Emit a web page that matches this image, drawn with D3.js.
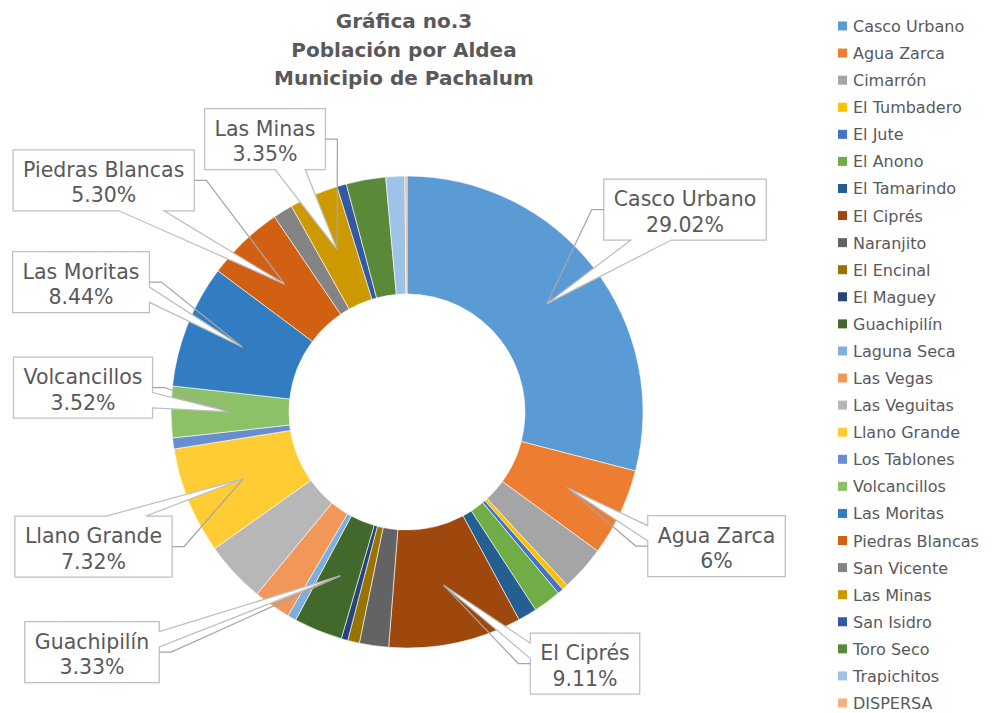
<!DOCTYPE html>
<html>
<head>
<meta charset="utf-8">
<script src="https://cdn.jsdelivr.net/npm/d3@7"></script>
<style>
  body { margin: 0; background: #fff; }
  svg text { font-family: "DejaVu Sans", sans-serif; fill: #595959; }
</style>
</head>
<body>
<div id="chart"></div>
<script>
// aldeas del municipio, en el orden de la hoja
var aldeas = ["Casco Urbano", "Agua Zarca", "Cimarrón", "El Tumbadero", "El Jute", "El Anono",
  "El Tamarindo", "El Ciprés", "Naranjito", "El Encinal", "El Maguey", "Guachipilín",
  "Laguna Seca", "Las Vegas", "Las Veguitas", "Llano Grande", "Los Tablones", "Volcancillos",
  "Las Moritas", "Piedras Blancas", "San Vicente", "Las Minas", "San Isidro", "Toro Seco",
  "Trapichitos", "DISPERSA"];

// porcentaje de poblacion
var porcentajes = [29.02, 6, 3.1, 0.4, 0.4, 1.9,
  1.3, 9.11, 2.0, 0.8, 0.45, 3.33,
  0.6, 2.55, 4.2, 7.32, 0.75, 3.52,
  8.44, 5.30, 1.35, 3.35, 0.65, 2.7,
  1.3, 0.14];

// etiquetas que se muestran en la grafica
var etiquetas = ["Casco Urbano", "Agua Zarca", "El Ciprés", "Guachipilín", "Llano Grande",
  "Volcancillos", "Las Moritas", "Piedras Blancas", "Las Minas"];
var textoEtiquetas = ["29.02%", "6%", "9.11%", "3.33%", "7.32%", "3.52%", "8.44%", "5.30%", "3.35%"];

var colores = ["#5B9BD5", "#ED7D31", "#A5A5A5", "#FFC000", "#4472C4", "#70AD47",
  "#255E91", "#9E480E", "#636363", "#997300", "#264478", "#43682B",
  "#7CAFDD", "#F1975A", "#B7B7B7", "#FFCD33", "#698ED0", "#8CC168",
  "#327DC2", "#D26012", "#848484", "#CC9A00", "#335AA1", "#5A8A39",
  "#9DC3E6", "#F4B183"];

var titulo = ["Gráfica no.3", "Población por Aldea", "Municipio de Pachalum"];

var width = 997, height = 713;
var cx = 407, cy = 412, outerR = 236, innerR = 118;

// centro de cada cuadro de etiqueta (posicion en pantalla)
var cajas = {
  "Casco Urbano": [685, 209.5],
  "Agua Zarca": [716.5, 546],
  "El Ciprés": [585, 663.5],
  "Guachipilín": [92, 652],
  "Llano Grande": [93.5, 546.5],
  "Volcancillos": [83, 387.5],
  "Las Moritas": [81, 282],
  "Piedras Blancas": [103.7, 180.3],
  "Las Minas": [265, 139]
};

var datos = aldeas.map(function(a, i) { return { nombre: a, valor: porcentajes[i] }; });

var svg = d3.select("#chart").append("svg")
  .attr("width", width)
  .attr("height", height);

var color = d3.scaleOrdinal().domain(aldeas).range(colores);

// titulo
svg.append("g").selectAll("text")
  .data(titulo)
  .enter().append("text")
    .attr("x", 404)
    .attr("y", function(d, i) { return 28 + i * 28.5; })
    .attr("text-anchor", "middle")
    .style("font-size", "20px")
    .style("font-weight", "bold")
    .text(function(d) { return d; });

// dona
var pie = d3.pie().sort(null).value(function(d) { return d.valor; });
var arc = d3.arc().innerRadius(innerR).outerRadius(outerR);
var arcos = pie(datos);

var g = svg.append("g").attr("transform", "translate(" + cx + "," + cy + ")");
g.selectAll("path")
  .data(arcos)
  .enter().append("path")
    .attr("d", arc)
    .attr("fill", function(d) { return color(d.data.nombre); })
    .attr("stroke", "#fff")
    .attr("stroke-width", 0.6);

// forma de llamada tipo wedgeRectCallout
function calloutPath(l, t, w, h, px, py) {
  var r = l + w, b = t + h, hc = l + w / 2, vc = t + h / 2;
  var dx = px - hc, dy = py - vc;
  var lado;
  if (Math.abs(dx) * h > Math.abs(dy) * w) lado = dx < 0 ? "l" : "r";
  else lado = dy < 0 ? "t" : "b";
  var xg = dx > 0 ? 7 : 2, yg = dy > 0 ? 7 : 2;
  var x1 = l + w * xg / 12, x2 = l + w * (xg + 3) / 12;
  var y1 = t + h * yg / 12, y2 = t + h * (yg + 3) / 12;
  var p = [[l, t]];
  if (lado == "t") p.push([x1, t], [px, py], [x2, t]);
  p.push([r, t]);
  if (lado == "r") p.push([r, y1], [px, py], [r, y2]);
  p.push([r, b]);
  if (lado == "b") p.push([x2, b], [px, py], [x1, b]);
  p.push([l, b]);
  if (lado == "l") p.push([l, y2], [px, py], [l, y1]);
  return "M" + p.join("L") + "Z";
}

var capaCajas = svg.append("g");
var capaLineas = svg.append("g");
var boxH = 61;

etiquetas.forEach(function(nombre, i) {
  var a = arcos[aldeas.indexOf(nombre)];
  var c = arc.centroid(a);
  var px = cx + c[0], py = cy + c[1];
  var centro = cajas[nombre];

  var grupo = capaCajas.append("g");
  var forma = grupo.append("path");
  var t1 = grupo.append("text")
    .attr("text-anchor", "middle")
    .style("font-size", "20.5px")
    .text(nombre);
  var t2 = grupo.append("text")
    .attr("text-anchor", "middle")
    .style("font-size", "20.5px")
    .text(textoEtiquetas[i]);

  var boxW = Math.max(t1.node().getComputedTextLength(), t2.node().getComputedTextLength()) + 20;
  var l = centro[0] - boxW / 2, t = centro[1] - boxH / 2;

  t1.attr("x", centro[0]).attr("y", t + 27);
  t2.attr("x", centro[0]).attr("y", t + 52.5);

  forma.attr("d", calloutPath(l, t, boxW, boxH, px, py))
    .attr("fill", "#fff")
    .attr("stroke", "#bfbfbf")
    .attr("stroke-width", 1.25);

  // linea guia desde el borde del cuadro
  var xBorde = px < centro[0] ? l : l + boxW;
  var xCodo = px < centro[0] ? xBorde - 12 : xBorde + 12;
  capaLineas.append("path")
    .attr("d", "M" + xBorde + "," + centro[1] + "L" + xCodo + "," + centro[1] + "L" + px + "," + py)
    .attr("fill", "none")
    .attr("stroke", "#a6a6a6")
    .attr("stroke-width", 1.25);
});

// leyenda
var yLeyenda = d3.scalePoint().domain(aldeas).range([26, 703]);
var leyenda = svg.append("g").selectAll("g")
  .data(aldeas)
  .enter().append("g")
    .attr("transform", function(d) { return "translate(838," + yLeyenda(d) + ")"; });

leyenda.append("rect")
  .attr("x", 0)
  .attr("y", -4.5)
  .attr("width", 9)
  .attr("height", 9)
  .attr("fill", function(d) { return color(d); });

leyenda.append("text")
  .attr("x", 15)
  .attr("y", 6)
  .style("font-size", "16px")
  .text(function(d) { return d; });
</script>
</body>
</html>
